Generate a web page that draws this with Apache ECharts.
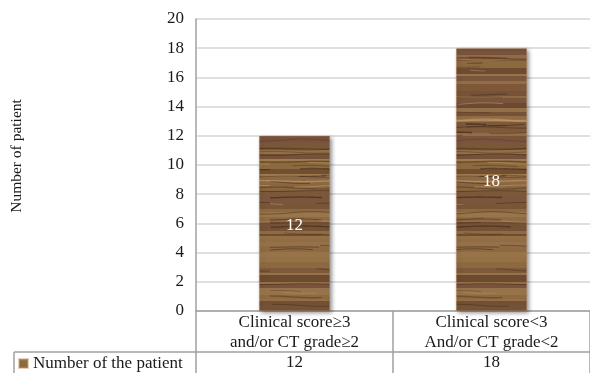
<!DOCTYPE html>
<html>
<head>
<meta charset="utf-8">
<script src="https://cdn.jsdelivr.net/npm/echarts@6/dist/echarts.min.js"></script>
<style>
  html, body { margin: 0; padding: 0; background: #fff; }
  #chart { width: 590px; height: 373px; }
</style>
</head>
<body>
<div id="chart"></div>
<script>
// Patient counts per clinical group
const categories = ['Clinical score\u22653\nand/or CT grade\u22652', 'Clinical score<3\nAnd/or CT grade<2'];
const patients = [12, 18];
const seriesName = 'Number of the patient';
const axisTitle = 'Number of patient';
const yTicks = { min: 0, max: 20, interval: 2 };

// Wood-grain fill: soft bands plus slightly wavy grain lines, softened with a light blur
function woodTexture() {
  const w = 90, h = 260;
  const raw = document.createElement('canvas');
  raw.width = w; raw.height = h;
  const g = raw.getContext('2d');
  g.fillStyle = '#82603f';
  g.fillRect(0, 0, w, h);
  const bands = ['#a7814f', '#6d4a2f', '#b08a5a', '#7b5436', '#94703f', '#5f3e28', '#9f784b', '#744a3a'];
  let s = 23;
  const next = () => { s = (s * 9301 + 49297) % 233280; return s / 233280; };
  let y = 0;
  while (y < h) {
    const bh = 2 + Math.floor(next() * 6);
    g.globalAlpha = 0.35 + next() * 0.35;
    g.fillStyle = bands[Math.floor(next() * bands.length)];
    g.fillRect(0, y, w, bh);
    y += bh;
  }
  // wavy grain lines, some running only part of the width
  for (let i = 0; i < 55; i++) {
    const ly = next() * h;
    const x0 = next() < 0.5 ? -5 : next() * w * 0.6;
    const len = next() < 0.5 ? w + 10 : 15 + next() * 50;
    const amp = 0.4 + next() * 0.8;
    const ph = next() * 6;
    g.globalAlpha = 0.3 + next() * 0.4;
    g.strokeStyle = next() < 0.7 ? '#3e2616' : '#c9a273';
    g.lineWidth = next() < 0.7 ? 0.8 : 1.4;
    g.beginPath();
    for (let x = x0; x <= x0 + len; x += 3) {
      const yy = ly + amp * Math.sin(x / 14 + ph);
      if (x === x0) g.moveTo(x, yy); else g.lineTo(x, yy);
    }
    g.stroke();
  }
  g.globalAlpha = 1;
  const out = document.createElement('canvas');
  out.width = w; out.height = h;
  const o = out.getContext('2d');
  o.fillStyle = '#82603f';
  o.fillRect(0, 0, w, h);
  o.filter = 'blur(0.5px)';
  o.drawImage(raw, 0, 0);
  return out;
}
const wood = woodTexture();

const chart = echarts.init(document.getElementById('chart'));
const lineGray = '#a0a0a0';
const serif = '"Liberation Serif", "Times New Roman", serif';
const textColor = '#1a1a1a';

chart.setOption({
  animation: false,
  textStyle: { fontFamily: serif },
  grid: { left: 196, right: -4, top: 19, bottom: 62, containLabel: false },
  legend: {
    data: [seriesName],
    left: 18, top: 355,
    itemWidth: 9, itemHeight: 9, itemGap: 4,
    icon: 'rect',
    padding: 0,
    textStyle: { fontFamily: serif, fontSize: 17, color: textColor, padding: [1, 0, 0, 0] }
  },
  xAxis: [
    {
      type: 'category',
      data: categories,
      position: 'bottom',
      axisLine: { show: true, lineStyle: { color: lineGray, width: 1.5 } },
      axisTick: { show: true, length: 62, interval: 0, lineStyle: { color: lineGray, width: 1.5 } },
      axisLabel: { interval: 0, margin: 2, fontSize: 17, lineHeight: 20, color: textColor, fontFamily: serif }
    },
    {
      type: 'category',
      data: categories,
      position: 'bottom',
      offset: 41,
      axisLine: { show: true, lineStyle: { color: lineGray, width: 1.5 } },
      axisTick: { show: false },
      axisLabel: {
        interval: 0, margin: 2, fontSize: 17, color: textColor, fontFamily: serif,
        formatter: (v, i) => String(patients[i])
      }
    }
  ],
  yAxis: {
    type: 'value',
    min: yTicks.min, max: yTicks.max, interval: yTicks.interval,
    axisLine: { show: true, lineStyle: { color: lineGray, width: 1.5 } },
    axisTick: { show: false },
    axisLabel: { margin: 12, fontSize: 17, color: textColor, fontFamily: serif },
    splitLine: { lineStyle: { color: '#d4d4d4', width: 1.5 } }
  },
  series: [{
    name: seriesName,
    type: 'bar',
    data: patients,
    barWidth: '36%',
    itemStyle: {
      color: { image: wood, repeat: 'repeat' },
      borderColor: 'rgba(210,160,120,0.5)',
      borderWidth: 0.5,
      shadowColor: 'rgba(0,0,0,0.45)',
      shadowBlur: 4,
      shadowOffsetX: 2,
      shadowOffsetY: 2
    },
    label: {
      show: true,
      position: 'inside',
      offset: [0, 2],
      color: '#fff',
      fontSize: 17,
      fontFamily: serif
    }
  }],
  graphic: [
    {
      type: 'text', x: 17, y: 156, rotation: Math.PI / 2,
      style: { text: axisTitle, font: '15.5px ' + serif, fill: textColor, align: 'center', verticalAlign: 'middle' }
    },
    { type: 'line', shape: { x1: 14, y1: 352, x2: 196, y2: 352 }, style: { stroke: lineGray, lineWidth: 1.5 } },
    { type: 'line', shape: { x1: 14, y1: 352, x2: 14, y2: 373 }, style: { stroke: lineGray, lineWidth: 1.5 } }
  ]
});
</script>
</body>
</html>
